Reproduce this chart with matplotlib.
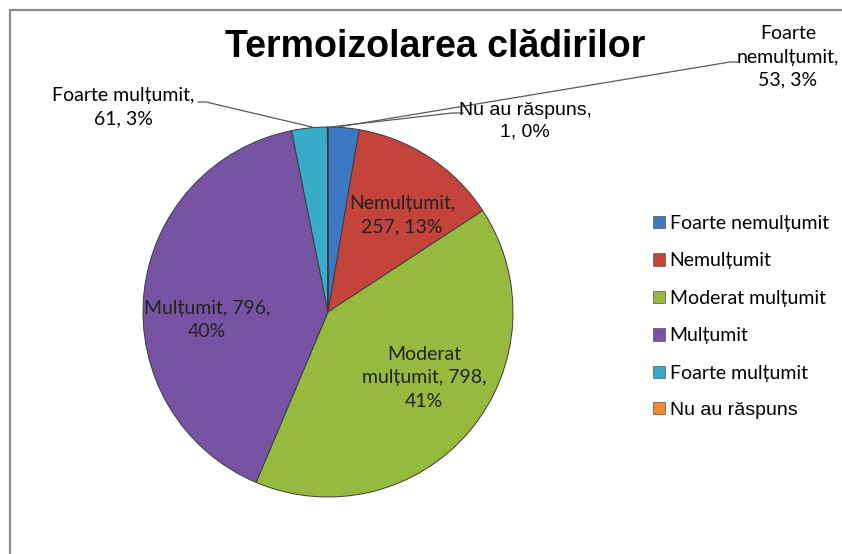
import matplotlib
matplotlib.use('Agg')
import matplotlib.pyplot as plt
from matplotlib.patches import Rectangle, Patch

# data
categories = ['Foarte nemulțumit', 'Nemulțumit', 'Moderat mulțumit',
              'Mulțumit', 'Foarte mulțumit', 'Nu au răspuns']
counts = [53, 257, 798, 796, 61, 1]
percents = [3, 13, 41, 40, 3, 0]
colors = ['#3D78C4', '#C4443B', '#96BA3E', '#7653A3', '#38AACA', '#EE8A36']
title = 'Termoizolarea clădirilor'

W, H = 842, 554
CAL = ['Lato', 'DejaVu Sans']
ARI = ['Liberation Sans', 'DejaVu Sans']


def py(y):
    # pixel row (from top) -> data y
    return H - y


def main():
    fig = plt.figure(figsize=(W / 100, H / 100), dpi=100)
    ax = fig.add_axes([0, 0, 1, 1])

    # chart frame (cut off on the right and bottom)
    ax.add_patch(Rectangle((10, -20), 900, py(10) + 20, fill=False,
                           edgecolor='#8a8a8a', linewidth=1.6, zorder=1))

    wedges, _ = ax.pie(counts, colors=colors, startangle=90, counterclock=False,
                       center=(328, py(312)), radius=185, frame=True,
                       wedgeprops=dict(edgecolor='#3c3c3c', linewidth=0.7))
    ax.set_xlim(0, W)
    ax.set_ylim(0, H)
    ax.set_aspect('equal')
    ax.axis('off')

    ax.text(435, py(47), title, ha='center', va='center', fontsize=27,
            fontweight='bold', family=ARI, color='black')

    lc = '#5a5a5a'
    ls = 1.45
    # outside labels with leader lines
    ax.plot([338, 730, 738], [py(127), py(62), py(62)], color=lc, lw=0.9)
    ax.text(788, py(57), 'Foarte\nnemulțumit,\n' + f'{counts[0]}, {percents[0]}%',
            ha='center', va='center', fontsize=14, family=CAL, linespacing=ls)

    ax.plot([330, 452, 463], [py(127), py(113), py(113)], color=lc, lw=0.9)
    ax.text(525, py(121), f'{categories[5]},\n{counts[5]}, {percents[5]}%',
            ha='center', va='center', fontsize=14, family=ARI, linespacing=1.35)

    ax.plot([198, 206, 312], [py(102), py(102), py(127)], color=lc, lw=0.9)
    ax.text(123, py(107), f'{categories[4]},\n{counts[4]}, {percents[4]}%',
            ha='center', va='center', fontsize=14, family=CAL, linespacing=ls)

    # inside labels
    ax.text(402, py(215), f'{categories[1]},\n{counts[1]}, {percents[1]}%',
            ha='center', va='center', fontsize=14, family=CAL, color='#222222',
            linespacing=ls)
    ax.text(424, py(378), f'Moderat\nmulțumit, {counts[2]},\n{percents[2]}%',
            ha='center', va='center', fontsize=14, family=CAL, color='#222222',
            linespacing=ls)
    ax.text(207, py(320), f'{categories[3]}, {counts[3]},\n{percents[3]}%',
            ha='center', va='center', fontsize=14, family=CAL, color='#222222',
            linespacing=ls)

    handles = [Patch(facecolor=c, edgecolor='#555555', linewidth=0.5) for c in colors]
    leg = ax.legend(handles, categories, loc='upper left',
                    bbox_to_anchor=(653 / W, 1 - 215 / H),
                    frameon=False, borderpad=0, borderaxespad=0,
                    handlelength=0.6, handleheight=0.6,
                    handletextpad=0.25, labelspacing=1.05,
                    prop={'family': CAL, 'size': 14})
    txts = leg.get_texts()
    txts[-1].set_fontfamily(ARI)

    plt.savefig('out.png', dpi=100, facecolor='white')
    plt.close()


if __name__ == '__main__':
    main()
